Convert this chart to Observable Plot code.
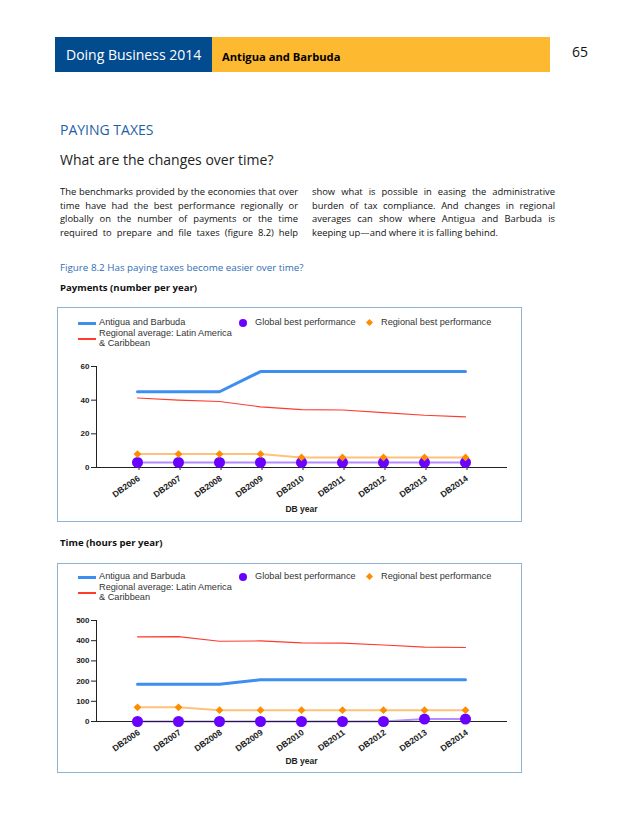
<!DOCTYPE html>
<html>
<head>
<meta charset="utf-8">
<script src="https://cdn.jsdelivr.net/npm/d3@7"></script>
<script src="https://cdn.jsdelivr.net/npm/@observablehq/plot@0.6"></script>
<style>
  html, body { margin:0; padding:0; background:#fff; }
  body { width:640px; height:828px; position:relative; overflow:hidden; font-family:"Open Sans", sans-serif; color:#111; }
  .abs { position:absolute; }
  .hdr-blue { left:55px; top:37px; width:157px; height:35px; background:#024b8f; color:#fff; font-size:14px; line-height:35px; text-indent:11px; }
  .hdr-yellow { left:212px; top:37px; width:338px; height:35px; background:#fdb92f; color:#000; font-size:11.2px; font-weight:bold; line-height:39px; text-indent:10px; }
  .pgnum { left:572px; top:42px; font-size:14px; }
  .sec { left:60px; top:120px; font-size:14px; color:#1f5fa8; }
  .q { left:60px; top:150px; font-size:14px; color:#222; }
  .col { top:185px; width:238px; font-size:9.4px; line-height:13.6px; }
  .col div { text-align:justify; text-align-last:justify; white-space:nowrap; }
  .col div.last { text-align-last:left; }
  .figcap { left:60px; top:261px; font-size:9.8px; color:#2f6db5; }
  .sub { left:60px; font-size:9.6px; font-weight:bold; }
  .box { left:57px; width:463px; border:1.5px solid #8eb3d4; background:#fff; }
  .leg { font-family:"Liberation Sans", sans-serif; font-size:9.2px; color:#333; position:absolute; line-height:9.5px; }
  .sw { position:absolute; }
</style>
</head>
<body>
<div class="abs hdr-blue">Doing Business 2014</div>
<div class="abs hdr-yellow">Antigua and Barbuda</div>
<div class="abs pgnum">65</div>
<div class="abs sec">PAYING TAXES</div>
<div class="abs q">What are the changes over time?</div>
<div class="abs col" style="left:60px">
  <div>The benchmarks provided by the economies that over</div>
  <div>time have had the best performance regionally or</div>
  <div>globally on the number of payments or the time</div>
  <div>required to prepare and file taxes (figure 8.2) help</div>
</div>
<div class="abs col" style="left:312px; width:243px">
  <div>show what is possible in easing the administrative</div>
  <div>burden of tax compliance. And changes in regional</div>
  <div>averages can show where Antigua and Barbuda is</div>
  <div class="last">keeping up—and where it is falling behind.</div>
</div>
<div class="abs figcap">Figure 8.2 Has paying taxes become easier over time?</div>
<div class="abs sub" style="top:281px">Payments (number per year)</div>
<div class="abs box" id="box1" style="top:307px; height:213px"></div>
<div class="abs sub" style="top:536px">Time (hours per year)</div>
<div class="abs box" id="box2" style="top:563px; height:208px"></div>

<script>
const years = ["DB2006","DB2007","DB2008","DB2009","DB2010","DB2011","DB2012","DB2013","DB2014"];
const seriesNames = ["Antigua and Barbuda","Global best performance","Regional best performance","Regional average: Latin America & Caribbean"];

const payAntigua     = [45, 45, 45, 57, 57, 57, 57, 57, 57];
const payRegAvg      = [41.3, 40.0, 39.2, 36.0, 34.4, 34.2, 32.6, 31.0, 30.1];
const payRegBest     = [8, 8, 8, 8, 6, 6, 6, 6, 6];
const payGlobalBest  = [3, 3, 3, 3, 3, 3, 3, 3, 3];
const payTicks       = [0, 20, 40, 60];

const timeAntigua    = [184, 184, 184, 207, 207, 207, 207, 207, 207];
const timeRegAvg     = [419, 420, 397, 399, 389, 388, 379, 368, 366];
const timeRegBest    = [70, 70, 56, 56, 56, 56, 56, 56, 56];
const timeGlobalBest = [0, 0, 0, 0, 0, 0, 0, 12, 12];
const timeTicks      = [0, 100, 200, 300, 400, 500];

const C = { blue:"#3d8ef0", red:"#ff3b30", orange:"#ff8c00", orangeLine:"#ffc27a", purple:"#6a00ff", purpleLine:"#b58cff", axis:"#222" };

function addLegend(box, top) {
  const leg = (html, left, t) => { const d = document.createElement("div"); d.className = "leg"; d.style.left = left + "px"; d.style.top = t + "px"; d.innerHTML = html; box.appendChild(d); };
  const sw = (css) => { const d = document.createElement("div"); d.className = "sw"; Object.assign(d.style, css); box.appendChild(d); };
  sw({left:"20px", top:(top+4)+"px", width:"18px", height:"3px", background:C.blue});
  leg(seriesNames[0], 41, top);
  sw({left:"181px", top:(top+1)+"px", width:"8px", height:"8px", borderRadius:"50%", background:C.purple});
  leg(seriesNames[1], 197, top);
  sw({left:"309px", top:(top+2)+"px", width:"5px", height:"5px", background:C.orange, transform:"rotate(45deg)"});
  leg(seriesNames[2], 323, top);
  sw({left:"20px", top:(top+20)+"px", width:"18px", height:"2px", background:C.red});
  leg("Regional average: Latin America<br>&amp; Caribbean", 41, top + 11);
}

function makeChart(box, cfg) {
  const rows = years.map((y, i) => ({ year:y, a:cfg.a[i], avg:cfg.avg[i], rb:cfg.rb[i], gb:cfg.gb[i] }));
  const svg = Plot.plot({
    width: 463,
    height: cfg.height,
    marginLeft: 38, marginRight: 15, marginTop: cfg.mt, marginBottom: cfg.mb,
    style: { fontFamily:"Liberation Sans, sans-serif", background:"transparent", color:C.axis, overflow:"visible" },
    x: { type:"point", domain: years, padding: 1, label: null },
    y: { domain: cfg.domain, label: null },
    marks: [
      Plot.frame({ anchor:"left", stroke:C.axis, strokeWidth:1 }),
      Plot.axisY({ ticks: cfg.ticks, tickSize: 5, tickPadding: 2, fontSize: 8, fontWeight: "bold", label: null, stroke:C.axis }),
      Plot.axisX({ tickRotate: -35, tickSize: 3, tickPadding: 7, dx: 1.5, fontSize: 8.5, fontWeight: "bold", label: null, stroke:C.axis }),
      Plot.lineY(rows, { x:"year", y:"rb", stroke:C.orangeLine, strokeWidth:2 }),
      Plot.lineY(rows, { x:"year", y:"gb", stroke:C.purpleLine, strokeWidth:2 }),
      Plot.frame({ anchor:"bottom", stroke:C.axis, strokeWidth:1 }),
      Plot.lineY(rows, { x:"year", y:"avg", stroke:C.red, strokeWidth:1.1 }),
      Plot.lineY(rows, { x:"year", y:"a", stroke:C.blue, strokeWidth:3 }),
      Plot.dot(rows, { x:"year", y:"gb", r:5.5, fill:C.purple, stroke:"none" }),
      Plot.dot(rows, { x:"year", y:"rb", r:3.5, symbol:"diamond2", fill:C.orange, stroke:"none" }),
      Plot.text(["DB year"], { frameAnchor:"bottom", dy: cfg.labelDy, fontSize: 8.5, fontWeight:"bold", fill:"#222" })
    ]
  });
  svg.style.position = "absolute";
  svg.style.left = "0px";
  svg.style.top = cfg.top + "px";
  box.appendChild(svg);
}

const box1 = document.getElementById("box1");
const box2 = document.getElementById("box2");
addLegend(box1, 10);
addLegend(box2, 8);
makeChart(box1, { a:payAntigua, avg:payRegAvg, rb:payRegBest, gb:payGlobalBest, domain:[0,60], ticks:payTicks, top:47, height:164, mt:11, mb:52, labelDy:44 });
makeChart(box2, { a:timeAntigua, avg:timeRegAvg, rb:timeRegBest, gb:timeGlobalBest, domain:[0,500], ticks:timeTicks, top:46, height:160, mt:10, mb:49, labelDy:42 });
</script>
</body>
</html>
